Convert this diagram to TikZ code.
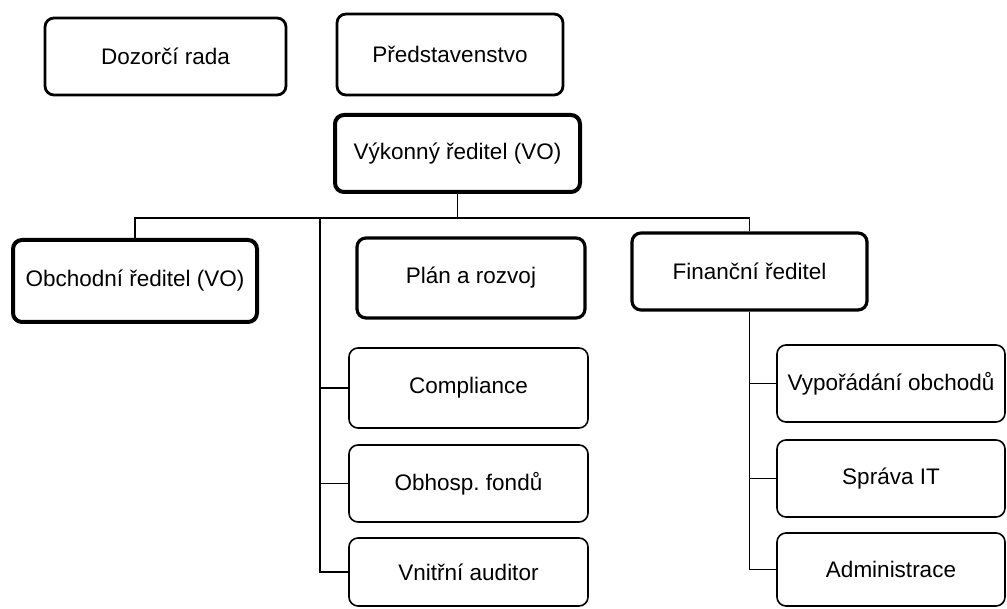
\documentclass[tikz,border=0pt]{standalone}
\usepackage{fontspec}
\setmainfont{Liberation Sans}
\frenchspacing
\begin{document}
\begin{tikzpicture}[x=1pt,y=-1pt,
  base/.style={draw=black, fill=white, rounded corners=9pt, align=center, inner sep=2pt,
    font=\fontsize{22.5}{27}\selectfont},
  topbox/.style={base, line width=2.8pt},
  headbox/.style={base, line width=4pt},
  midbox/.style={base, line width=3.2pt},
  lowbox/.style={base, line width=1.6pt},
  conn/.style={draw=black, line width=1.5pt}]
\useasboundingbox (0,0) rectangle (1007,609);
% top row
\node[topbox, minimum width=241pt, minimum height=77pt] (dozor) at (165.5,56.5) {Dozorčí rada};
\node[topbox, minimum width=226pt, minimum height=81pt] (pred) at (450,54.5) {Představenstvo};
\node[headbox, minimum width=245pt, minimum height=77pt] (vo) at (457.5,153.5) {Výkonný ředitel (VO)};
% second row
\node[headbox, minimum width=244pt, minimum height=82pt] (obch) at (135,281) {Obchodní ředitel (VO)};
\node[midbox, minimum width=228pt, minimum height=80pt] (plan) at (471,278) {Plán a rozvoj};
\node[midbox, minimum width=235pt, minimum height=77pt] (fin) at (749.5,271.5) {Finanční ředitel};
% left column
\node[lowbox, minimum width=239pt, minimum height=80pt] (comp) at (468.5,388) {Compliance};
\node[lowbox, minimum width=239pt, minimum height=77pt] (obh) at (468.5,483.5) {Obhosp. fondů};
\node[lowbox, minimum width=239pt, minimum height=68pt] (vni) at (468.5,572) {Vnitřní auditor};
% right column
\node[lowbox, minimum width=228pt, minimum height=77pt] (vyp) at (891,383.5) {Vypořádání obchodů};
\node[lowbox, minimum width=228pt, minimum height=77pt] (it) at (891,478.5) {Správa IT};
\node[lowbox, minimum width=228pt, minimum height=73pt] (adm) at (891,569.5) {Administrace};
% connectors
\coordinate (bus) at (457.5,218);
\coordinate (lbus) at (320,218);
\draw[conn] (vo.south) -- (bus);
\draw[conn] (obch.north) |- (bus) -| (fin.north);
\draw[conn] (lbus) |- (comp.west);
\draw[conn] (lbus) |- (obh.west);
\draw[conn] (lbus) |- (vni.west);
\draw[conn] (fin.south) |- (vyp.west);
\draw[conn] (fin.south) |- (it.west);
\draw[conn] (fin.south) |- (adm.west);
\end{tikzpicture}
\end{document}
